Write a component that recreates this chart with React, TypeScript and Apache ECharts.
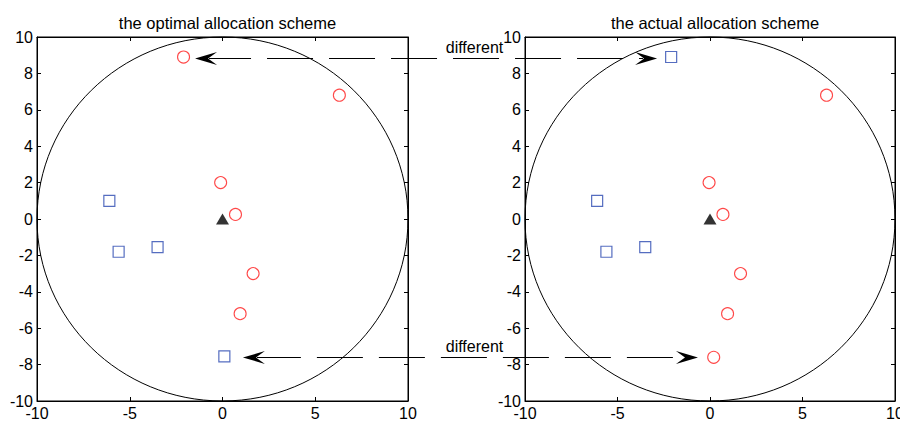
import React, { useEffect, useRef } from "react";
import * as echarts from "echarts";

// Titles
const titles = ["the optimal allocation scheme", "the actual allocation scheme"];

// Axis ticks
const xMin = -10, xMax = 10, xStep = 5;
const yMin = -10, yMax = 10, yStep = 2;

// Optimal scheme (left)
const optRed: number[][] = [[-2.1, 8.9], [6.3, 6.8], [-0.1, 2.0], [0.7, 0.25], [1.65, -3.0], [0.95, -5.2]];
const optBlue: number[][] = [[-6.1, 1.0], [-5.6, -1.8], [-3.5, -1.55], [0.1, -7.55]];
// Actual scheme (right)
const actRed: number[][] = [[6.3, 6.8], [-0.05, 2.0], [0.7, 0.25], [1.65, -3.0], [0.95, -5.2], [0.2, -7.6]];
const actBlue: number[][] = [[-2.1, 8.9], [-6.1, 1.0], [-5.6, -1.8], [-3.5, -1.55]];
// Center (base station) and coverage radius
const center: number[][] = [[0, 0]];
const radius = 10;

// "different" annotations: y value, tip x in left plot, tip x in right plot
const annoY = [8.87, -7.58];
const annoLeftX = [-1.48, 1.1];
const annoRightX = [-2.86, -0.65];
const annoText = "different";

const FONT = "Arial, 'Liberation Sans', sans-serif";

export default function App() {
  const ref = useRef<HTMLDivElement>(null);
  useEffect(() => {
    if (!ref.current) return;
    const chart = echarts.init(ref.current, undefined, { renderer: "svg" });
    const grids = [
      { left: 37, top: 37, width: 371, height: 364 },
      { left: 525, top: 37, width: 370, height: 364 },
    ];
    const axisLine = { show: true, onZero: false, lineStyle: { color: "#000", width: 1 } };
    const tick = { show: true, inside: true, length: 4, lineStyle: { color: "#000" } };
    const xAxes: any[] = [];
    const yAxes: any[] = [];
    grids.forEach((_, g) => {
      xAxes.push({
        type: "value", gridIndex: g, min: xMin, max: xMax, interval: xStep, position: "bottom",
        axisLine, axisTick: tick, splitLine: { show: false },
        axisLabel: { color: "#000", fontSize: 16, fontFamily: FONT, margin: 4, showMinLabel: true, showMaxLabel: true, hideOverlap: false },
      });
      xAxes.push({
        type: "value", gridIndex: g, min: xMin, max: xMax, interval: xStep, position: "top",
        axisLine, axisTick: tick, splitLine: { show: false }, axisLabel: { show: false },
      });
      yAxes.push({
        type: "value", gridIndex: g, min: yMin, max: yMax, interval: yStep, position: "left",
        axisLine, axisTick: tick, splitLine: { show: false },
        axisLabel: { color: "#000", fontSize: 16, fontFamily: FONT, margin: 4, showMinLabel: true, showMaxLabel: true, hideOverlap: false },
      });
      yAxes.push({
        type: "value", gridIndex: g, min: yMin, max: yMax, interval: yStep, position: "right",
        axisLine, axisTick: tick, splitLine: { show: false }, axisLabel: { show: false },
      });
    });
    const redStyle = { color: "rgba(0,0,0,0)", borderColor: "#ff1a1a", borderWidth: 1.1 };
    const blueStyle = { color: "rgba(0,0,0,0)", borderColor: "#2a48b0", borderWidth: 1.2 };
    const series: any[] = [];
    const sets = [
      { red: optRed, blue: optBlue },
      { red: actRed, blue: actBlue },
    ];
    sets.forEach((s, g) => {
      const xi = g * 2, yi = g * 2;
      series.push({
        type: "custom", xAxisIndex: xi, yAxisIndex: yi, clip: false, silent: true,
        data: [[0, 0, radius]],
        renderItem: (_p: any, api: any) => {
          const c = api.coord([api.value(0), api.value(1)]);
          const sz = api.size([api.value(2), api.value(2)]);
          return {
            type: "ellipse",
            shape: { cx: c[0], cy: c[1], rx: sz[0], ry: sz[1] },
            style: { fill: "none", stroke: "#000", lineWidth: 1 },
          };
        },
        z: 1,
      });
      series.push({
        type: "scatter", xAxisIndex: xi, yAxisIndex: yi, data: s.red,
        symbol: "circle", symbolSize: 12, itemStyle: redStyle, z: 3,
      });
      series.push({
        type: "scatter", xAxisIndex: xi, yAxisIndex: yi, data: s.blue,
        symbol: "rect", symbolSize: 11, itemStyle: blueStyle, z: 3,
      });
      series.push({
        type: "scatter", xAxisIndex: xi, yAxisIndex: yi, data: center,
        symbol: "triangle", symbolSize: [13, 11], itemStyle: { color: "#000" }, z: 3,
      });
    });
    chart.setOption({
      animation: false,
      backgroundColor: "#fff",
      grid: grids.map((g) => ({
        ...g, show: true, borderColor: "#000", borderWidth: 1, backgroundColor: "rgba(0,0,0,0)",
        containLabel: false, outerBoundsMode: "none",
      })),
      title: titles.map((t, i) => ({
        text: t,
        left: grids[i].left + grids[i].width / 2,
        top: 9,
        textAlign: "center",
        textStyle: { fontSize: 16.5, fontWeight: "normal", color: "#000", fontFamily: FONT },
      })),
      xAxis: xAxes,
      yAxis: yAxes,
      series,
    });

    // annotations: dashed double arrows between the two plots
    const graphic: any[] = [];
    const arrowHead = (tx: number, ty: number, dir: number) => {
      const L = 22, W = 6.5, N = 13;
      return {
        type: "polygon",
        shape: {
          points: [
            [tx, ty],
            [tx + dir * L, ty - W],
            [tx + dir * N, ty],
            [tx + dir * L, ty + W],
          ],
        },
        style: { fill: "#000" },
        z: 10,
      };
    };
    annoY.forEach((yv, i) => {
      const pL = chart.convertToPixel({ xAxisIndex: 0, yAxisIndex: 0 }, [annoLeftX[i], yv]) as number[];
      const pR = chart.convertToPixel({ xAxisIndex: 2, yAxisIndex: 2 }, [annoRightX[i], yv]) as number[];
      const y = Math.round(pL[1]) + 0.5;
      graphic.push({
        type: "line",
        shape: { x1: pL[0] + 14, y1: y, x2: pR[0] - 14, y2: y },
        style: { stroke: "#000", lineWidth: 1, lineDash: [46, 16], lineDashOffset: i === 0 ? 4 : 2 },
        z: 10,
      });
      graphic.push(arrowHead(pL[0], y, 1));
      graphic.push(arrowHead(pR[0], y, -1));
      graphic.push({
        type: "text",
        x: (grids[0].left + grids[0].width + grids[1].left) / 2 + 8,
        y: y - 3,
        style: {
          text: annoText, fill: "#000", fontSize: 16, fontFamily: FONT,
          textAlign: "center", textVerticalAlign: "bottom",
        },
        z: 10,
      });
    });
    chart.setOption({ graphic });
    return () => chart.dispose();
  }, []);
  return (
    <div
      ref={ref}
      style={{ position: "fixed", left: 0, top: 0, width: 900, height: 426, background: "#fff" }}
    />
  );
}
